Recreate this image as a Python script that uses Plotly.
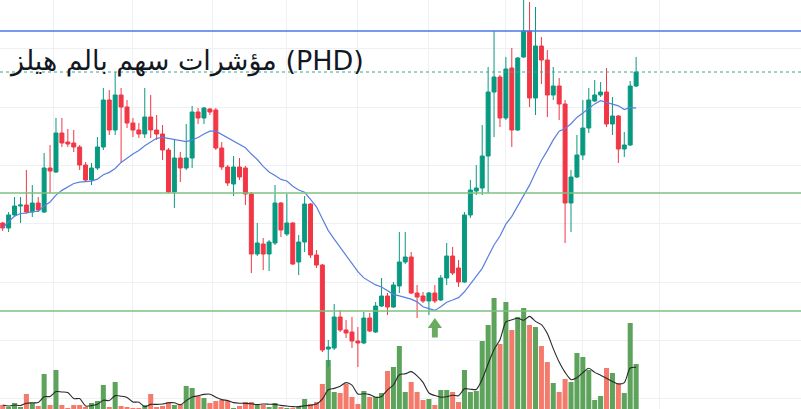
import plotly.graph_objects as go
import pandas as pd

title_text = "مؤشرات سهم بالم هيلز (PHD)"

open_ = [2.27, 2.22, 2.35, 2.44, 2.45, 2.38, 2.47, 2.38, 2.82, 2.78,
         3.17, 3.08, 3.07, 3.03, 2.85, 2.70, 2.82, 3.03, 3.50, 3.20,
         3.55, 3.43, 3.27, 3.20, 3.16, 3.33, 3.20, 3.16, 3.00, 2.58,
         2.92, 2.82, 2.92, 3.38, 3.32, 3.41, 3.40, 3.02, 2.83, 2.66,
         2.83, 2.82, 2.56, 1.96, 2.06, 1.96, 2.07, 2.47, 2.16, 2.27,
         1.88, 2.08, 2.46, 1.95, 1.85, 1.01, 1.02, 1.33, 1.20, 1.18,
         1.09, 1.07, 1.32, 1.18, 1.44, 1.54, 1.43, 1.64, 1.88, 1.93,
         1.57, 1.54, 1.49, 1.57, 1.50, 1.72, 1.94, 1.82, 1.68, 2.35,
         2.59, 2.62, 2.94, 3.58, 3.73, 3.32, 3.82, 3.20, 3.93, 4.19,
         3.52, 4.04, 3.90, 3.55, 3.64, 3.46, 2.47, 2.73, 2.95, 3.22,
         3.49, 3.55, 3.58, 3.26, 3.34, 3.01, 3.05, 3.64]
high = [2.28, 2.38, 2.53, 2.53, 2.80, 2.65, 2.53, 2.97, 3.05, 3.32,
        3.32, 3.21, 3.20, 3.05, 2.88, 2.87, 3.13, 3.62, 3.60, 3.78,
        3.62, 3.50, 3.32, 3.27, 3.62, 3.55, 3.35, 3.25, 3.02, 3.10,
        2.98, 3.26, 3.44, 3.42, 3.43, 3.42, 3.42, 3.08, 2.85, 2.94,
        2.92, 2.84, 2.58, 2.27, 2.12, 2.10, 2.65, 2.48, 2.56, 2.28,
        2.15, 2.54, 2.47, 2.00, 1.86, 1.10, 1.46, 1.40, 1.30, 1.33,
        1.23, 1.38, 1.37, 1.48, 1.72, 1.57, 1.68, 2.18, 2.18, 1.98,
        1.65, 1.58, 1.58, 1.65, 1.75, 2.07, 2.03, 1.90, 2.38, 2.70,
        2.85, 3.25, 3.83, 4.19, 3.75, 3.93, 4.02, 3.93, 4.55, 4.48,
        4.43, 4.13, 4.00, 3.83, 3.72, 3.50, 2.80, 3.15, 3.50, 3.62,
        3.70, 3.68, 3.82, 3.53, 3.35, 3.18, 3.69, 3.93]
low = [2.19, 2.18, 2.33, 2.27, 2.37, 2.33, 2.38, 2.37, 2.57, 2.77,
       3.03, 3.03, 2.98, 2.80, 2.68, 2.65, 2.80, 3.00, 3.15, 3.15,
       2.87, 3.22, 3.13, 3.12, 3.12, 3.12, 3.10, 2.90, 2.57, 2.42,
       2.68, 2.80, 2.82, 3.26, 3.26, 3.35, 3.00, 2.80, 2.64, 2.54,
       2.70, 2.45, 1.77, 1.94, 1.80, 1.79, 2.05, 2.13, 2.14, 1.85,
       1.75, 1.98, 1.92, 1.82, 0.98, 0.83, 1.00, 1.18, 1.12, 1.02,
       0.83, 1.06, 1.18, 1.17, 1.43, 1.35, 1.42, 1.57, 1.86, 1.56,
       1.32, 1.47, 1.35, 1.47, 1.49, 1.65, 1.75, 1.63, 1.67, 2.32,
       2.55, 2.55, 2.57, 3.13, 3.23, 3.30, 3.03, 3.19, 3.92, 3.43,
       3.35, 3.66, 3.33, 3.50, 3.30, 2.07, 2.18, 2.72, 2.90, 3.17,
       3.48, 3.53, 3.23, 3.15, 2.87, 2.93, 3.04, 3.63]
close = [2.22, 2.35, 2.44, 2.45, 2.38, 2.47, 2.40, 2.82, 2.79, 3.17,
         3.07, 3.06, 3.03, 2.85, 2.70, 2.82, 3.03, 3.50, 3.20, 3.55,
         3.43, 3.27, 3.20, 3.16, 3.33, 3.20, 3.16, 3.00, 2.58, 2.92,
         2.82, 2.92, 3.38, 3.32, 3.42, 3.38, 3.02, 2.83, 2.67, 2.83,
         2.73, 2.56, 1.96, 2.07, 1.96, 2.08, 2.47, 2.20, 2.27, 1.86,
         2.08, 2.46, 1.95, 1.85, 1.00, 1.03, 1.33, 1.20, 1.17, 1.09,
         1.07, 1.32, 1.19, 1.44, 1.54, 1.43, 1.65, 1.88, 1.93, 1.57,
         1.53, 1.49, 1.57, 1.49, 1.72, 1.94, 1.77, 1.68, 2.35, 2.60,
         2.62, 2.94, 3.58, 3.73, 3.32, 3.81, 3.20, 3.92, 4.19, 3.52,
         4.04, 3.90, 3.55, 3.64, 3.46, 2.47, 2.73, 2.95, 3.22, 3.50,
         3.55, 3.58, 3.26, 3.34, 3.01, 3.05, 3.64, 3.78]
volume = [5, 3, 7, 3, 16, 7, 4, 36, 5, 40,
          5, 2, 5, 5, 3, 7, 9, 25, 3, 28,
          4, 3, 2, 2, 5, 16, 3, 4, 8, 5,
          6, 24, 22, 14, 12, 7, 9, 10, 9, 2,
          4, 8, 8, 5, 5, 3, 7, 3, 2, 2,
          3, 11, 6, 8, 26, 50, 18, 17, 26, 13,
          6, 19, 13, 13, 17, 39, 43, 64, 18, 28,
          18, 10, 11, 5, 20, 20, 18, 8, 40, 18,
          19, 69, 85, 112, 66, 108, 80, 93, 102, 85,
          83, 64, 48, 27, 18, 31, 28, 57, 53, 40,
          10, 14, 42, 37, 27, 17, 87, 46]

resistance = 4.19
support_upper = 2.57
support_lower = 1.39
signal_idx = 73
signal_price = 1.32

x_grid = [8.5, 22, 35.5, 48, 60, 72, 85, 98, 111]
y_grid = [4.02, 3.43, 2.85, 2.27, 1.68, 1.10, 0.52]

idx = list(range(len(close)))
ma_price = pd.Series(close).rolling(20, min_periods=1).mean()
ma_vol = pd.Series(volume).rolling(5, min_periods=1).mean()

GREEN = "#089981"
RED = "#f23645"
VOL_GREEN = "#5ea35b"
VOL_RED = "#f47a6b"
vol_colors = [VOL_GREEN if c >= o else VOL_RED for o, c in zip(open_, close)]

fig = go.Figure()

fig.add_trace(go.Bar(x=idx, y=volume, marker=dict(color=vol_colors, line=dict(width=0)),
                     yaxis="y", hoverinfo="skip"))
fig.add_trace(go.Scatter(x=idx, y=ma_vol, mode="lines",
                         line=dict(color="#2a2a2a", width=1.1, shape="spline", smoothing=0.7),
                         yaxis="y", hoverinfo="skip"))
fig.add_trace(go.Candlestick(
    x=idx, open=open_, high=high, low=low, close=close, yaxis="y2",
    increasing=dict(line=dict(color=GREEN, width=1), fillcolor=GREEN),
    decreasing=dict(line=dict(color=RED, width=1), fillcolor=RED),
    whiskerwidth=0, hoverinfo="skip"))
fig.add_trace(go.Scatter(x=idx, y=ma_price, mode="lines",
                         line=dict(color="#5b7fe0", width=1.2),
                         yaxis="y2", hoverinfo="skip"))

# horizontal levels
fig.add_hline(y=resistance, yref="y2", line=dict(color="#4a78e8", width=1.6))
fig.add_hline(y=close[-1], yref="y2", line=dict(color="#3aa58a", width=1, dash="dot"))
fig.add_hline(y=support_upper, yref="y2", line=dict(color="#7cc27c", width=1.6))
fig.add_hline(y=support_lower, yref="y2", line=dict(color="#7cc27c", width=1.6))

# signal arrow
hw, sw = 1.2, 0.5
head_h, shaft_h = 0.10, 0.095
p0 = signal_price
path = (f"M {signal_idx},{p0} L {signal_idx + hw},{p0 - head_h} L {signal_idx + sw},{p0 - head_h} "
        f"L {signal_idx + sw},{p0 - head_h - shaft_h} L {signal_idx - sw},{p0 - head_h - shaft_h} "
        f"L {signal_idx - sw},{p0 - head_h} L {signal_idx - hw},{p0 - head_h} Z")
fig.add_shape(type="path", path=path, xref="x", yref="y2",
              fillcolor="#6aac5f", line=dict(width=0))

fig.add_annotation(text=title_text, xref="paper", yref="paper", x=7 / 801, y=1 - 61 / 409,
                   xanchor="left", yanchor="middle", showarrow=False,
                   font=dict(family="DejaVu Sans", size=27, color="#131722"))

GRID = "#eef0f3"
fig.update_layout(
    width=801, height=409, margin=dict(l=0, r=0, t=0, b=0),
    paper_bgcolor="white", plot_bgcolor="white", showlegend=False,
    boxgap=0.33, boxgroupgap=0, bargap=0.15,
    xaxis=dict(range=[-0.456, 134.85], rangeslider=dict(visible=False),
               tickvals=x_grid, showticklabels=False, showgrid=True, gridcolor=GRID,
               zeroline=False, showline=False, ticks=""),
    yaxis=dict(range=[1, 410], showgrid=False, zeroline=False, showticklabels=False, ticks=""),
    yaxis2=dict(range=[0.41, 4.50], overlaying="y", tickvals=y_grid, showgrid=True,
                gridcolor=GRID, zeroline=False, showticklabels=False, ticks=""),
)

fig.write_html("out.html", config={"displayModeBar": False},
               post_script="document.body.style.margin='0';document.body.style.overflow='hidden';")
